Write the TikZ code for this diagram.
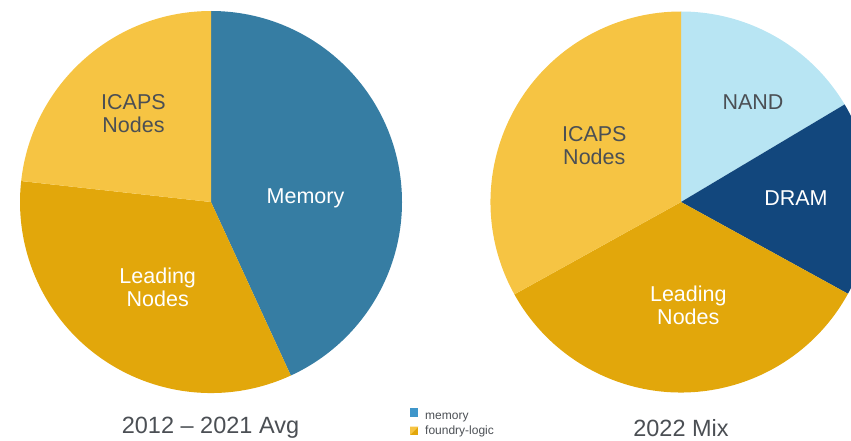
\documentclass[tikz,border=0pt]{standalone}
\usepackage{fontspec}
\setmainfont{Liberation Sans}
\usepackage{tikz}
\definecolor{memblue}{HTML}{367DA3}
\definecolor{legblue}{HTML}{3F96CA}
\definecolor{icapsgold}{HTML}{F6C443}
\definecolor{leadgold}{HTML}{E2A70B}
\definecolor{nandblue}{HTML}{B8E5F3}
\definecolor{dramblue}{HTML}{12477D}
\definecolor{inkgrey}{HTML}{4B4F54}
\tikzstyle{slicelbl} = [align=center, inner sep=0pt, font=\fontsize{21.5}{22.7}\selectfont]
\tikzstyle{dk} = [slicelbl, text=inkgrey]
\tikzstyle{wt} = [slicelbl, text=white]
\tikzstyle{ttl} = [inner sep=0pt, anchor=base, text=inkgrey, font=\fontsize{23.5}{26}\selectfont]
\tikzstyle{leg} = [inner sep=0pt, anchor=base west, text=inkgrey, font=\fontsize{12}{14}\selectfont]

\begin{document}
\begin{tikzpicture}[yscale=-1]
			\useasboundingbox (0pt,0pt) rectangle (851pt,441pt);
			\clip (0pt,0pt) rectangle (851pt,441pt);
			\fill[memblue] (211pt,202pt) -- ++(-90:191pt) arc[start angle=-90,end angle=65.3,radius=191pt] -- cycle;
			\fill[leadgold] (211pt,202pt) -- ++(65.3:191pt) arc[start angle=65.3,end angle=186.3,radius=191pt] -- cycle;
			\fill[icapsgold] (211pt,202pt) -- ++(186.3:191pt) arc[start angle=186.3,end angle=270,radius=191pt] -- cycle;
			\fill[nandblue] (681pt,202pt) -- ++(-90:190.5pt) arc[start angle=-90,end angle=-30.8,radius=190.5pt] -- cycle;
			\fill[dramblue] (681pt,202pt) -- ++(-30.8:190.5pt) arc[start angle=-30.8,end angle=28.8,radius=190.5pt] -- cycle;
			\fill[leadgold] (681pt,202pt) -- ++(28.8:190.5pt) arc[start angle=28.8,end angle=151,radius=190.5pt] -- cycle;
			\fill[icapsgold] (681pt,202pt) -- ++(151:190.5pt) arc[start angle=151,end angle=270,radius=190.5pt] -- cycle;
			\node[dk] (icapsold) at (133.5pt,113.5pt) {ICAPS\\Nodes};
			\node[wt] (memold) at (305.5pt,198pt) {Memory};
			\node[wt] (leadold) at (157.7pt,287.5pt) {Leading\\Nodes};
			\node[dk] (nandnew) at (753pt,102.2pt) {NAND};
			\node[wt] (dramnew) at (796pt,198pt) {DRAM};
			\node[dk] (icapsnew) at (594.3pt,145.8pt) {ICAPS\\Nodes};
			\node[wt] (leadnew) at (688.3pt,305pt) {Leading\\Nodes};
			\node[ttl] (avgtitle) at (210.5pt,433.3pt) {2012 -- 2021 Avg};
			\node[ttl] (mixtitle) at (681pt,436.7pt) {2022 Mix};
			\fill[legblue] (410pt,408.3pt) rectangle (418.3pt,416.7pt);
			\fill[leadgold] (410pt,426.7pt) rectangle (418.3pt,435pt);
			\fill[icapsgold] (410pt,435pt) -- (410pt,426.7pt) -- (418.3pt,426.7pt) -- cycle;
			\node[leg] (legmem) at (425pt,419pt) {memory};
			\node[leg] (legfound) at (425pt,434.3pt) {foundry-logic};
		\end{tikzpicture}
\end{document}
